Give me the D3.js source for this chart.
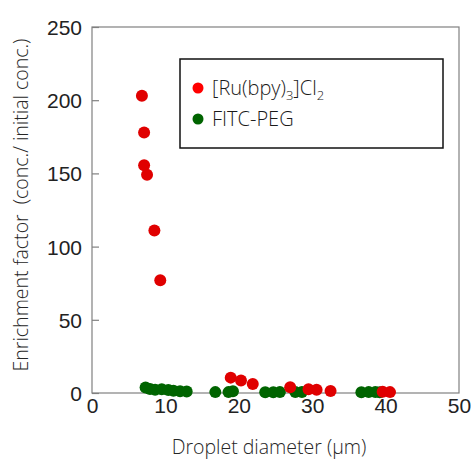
<!DOCTYPE html>
<html>
<head>
<meta charset="utf-8">
<script src="https://cdn.jsdelivr.net/npm/d3@7/dist/d3.min.js"></script>
<style>
  html, body { margin: 0; padding: 0; background: #fff; }
  svg { display: block; }
</style>
</head>
<body>
<svg id="chart" width="472" height="461"></svg>
<script>
// ---- data ----
const xTicks = [0, 10, 20, 30, 40, 50];
const yTicks = [0, 50, 100, 150, 200, 250];

const ruX = [6.8, 7.1, 7.1, 7.5, 8.5, 9.3, 18.9, 20.3, 21.9, 27.0, 29.5, 30.6, 32.5, 39.6, 40.6];
const ruY = [203, 178, 155.5, 149, 111, 77, 10.5, 8.5, 6.2, 4.0, 2.6, 2.2, 1.4, 0.8, 0.6];

const fitcX = [7.3, 7.9, 8.6, 9.5, 10.4, 11.1, 12.0, 12.9, 16.8, 18.6, 19.2, 23.6, 24.7, 25.6, 27.7, 28.6, 36.7, 37.7, 38.6, 39.2];
const fitcY = [3.8, 2.8, 2.2, 2.6, 2.0, 1.6, 1.2, 1.0, 0.6, 0.6, 1.2, 0.5, 0.5, 0.6, 0.6, 0.7, 0.5, 0.6, 0.6, 0.5];

const seriesNames = ["[Ru(bpy)3]Cl2", "FITC-PEG"];
const xTitle = "Droplet diameter (\u03bcm)";
const yTitle = "Enrichment factor\u00a0\u00a0(conc./ initial conc.)";

// ---- layout ----
const svg = d3.select("#chart");
const L = 92, R = 459, T = 27, B = 393;
const x = d3.scaleLinear().domain([0, 50]).range([L, R]);
const y = d3.scaleLinear().domain([0, 250]).range([B, T]);

const RED = "#e00000", GREEN = "#006400";
const tickFont = "'Liberation Sans', Arial, sans-serif";
const titleFont = "'Open Sans', 'Noto Sans', sans-serif";

// frame
svg.append("rect")
  .attr("x", L).attr("y", T).attr("width", R - L).attr("height", B - T)
  .attr("fill", "none").attr("stroke", "#808080").attr("stroke-width", 1.2);

// y axis (inward ticks)
const yAxis = svg.append("g").attr("transform", `translate(${L},0)`)
  .call(d3.axisRight(y).tickValues(yTicks).tickSize(7).tickFormat(d3.format("d")));
yAxis.select(".domain").remove();
yAxis.selectAll(".tick line").attr("stroke", "#808080").attr("stroke-width", 1.2);
yAxis.selectAll(".tick text")
  .attr("x", -10).attr("dy", "0.36em")
  .attr("text-anchor", "end")
  .attr("font-family", tickFont).attr("font-size", 21).attr("fill", "#222");

// x axis (labels only)
const xAxis = svg.append("g").attr("transform", `translate(0,${B})`)
  .call(d3.axisBottom(x).tickValues(xTicks).tickSize(0).tickFormat(d3.format("d")));
xAxis.select(".domain").remove();
xAxis.selectAll(".tick line").remove();
xAxis.selectAll(".tick text")
  .attr("y", 20).attr("dy", 0)
  .attr("font-family", tickFont).attr("font-size", 21).attr("fill", "#222");

// axis titles
svg.append("text")
  .attr("x", 269).attr("y", 454)
  .attr("text-anchor", "middle")
  .attr("font-family", titleFont).attr("font-weight", 300)
  .attr("font-size", 19.5).attr("fill", "#262626")
  .text(xTitle);

svg.append("text")
  .attr("transform", `translate(28,205) rotate(-90)`)
  .attr("text-anchor", "middle")
  .attr("font-family", titleFont).attr("font-weight", 300)
  .attr("font-size", 19.5).attr("fill", "#262626")
  .text(yTitle);

// points
const fitc = fitcX.map((v, i) => ({x: v, y: fitcY[i]}));
const ru = ruX.map((v, i) => ({x: v, y: ruY[i]}));

svg.append("g").selectAll("circle").data(fitc).join("circle")
  .attr("cx", d => x(d.x)).attr("cy", d => y(d.y)).attr("r", 6)
  .attr("fill", GREEN);
svg.append("g").selectAll("circle").data(ru).join("circle")
  .attr("cx", d => x(d.x)).attr("cy", d => y(d.y)).attr("r", 6)
  .attr("fill", RED);

// legend
const lg = svg.append("g");
lg.append("rect")
  .attr("x", 180).attr("y", 59).attr("width", 263).attr("height", 89)
  .attr("fill", "#fff").attr("stroke", "#111").attr("stroke-width", 1.5);

const legendItems = [{name: seriesNames[0], color: "#ff0000"}, {name: seriesNames[1], color: GREEN}];
legendItems.forEach((it, i) => {
  const cy = 88 + i * 31;
  lg.append("circle").attr("cx", 198).attr("cy", cy).attr("r", 5.5).attr("fill", it.color);
  const t = lg.append("text")
    .attr("x", 212).attr("y", cy + 7)
    .attr("font-family", titleFont).attr("font-weight", 300)
    .attr("font-size", 20).attr("fill", "#1a1a1a");
  if (i === 0) {
    t.append("tspan").text("[Ru(bpy)");
    t.append("tspan").attr("font-size", 13).attr("dy", 5).text("3");
    t.append("tspan").attr("dy", -5).text("]Cl");
    t.append("tspan").attr("font-size", 13).attr("dy", 5).text("2");
  } else {
    t.text(it.name);
  }
});
</script>
</body>
</html>
